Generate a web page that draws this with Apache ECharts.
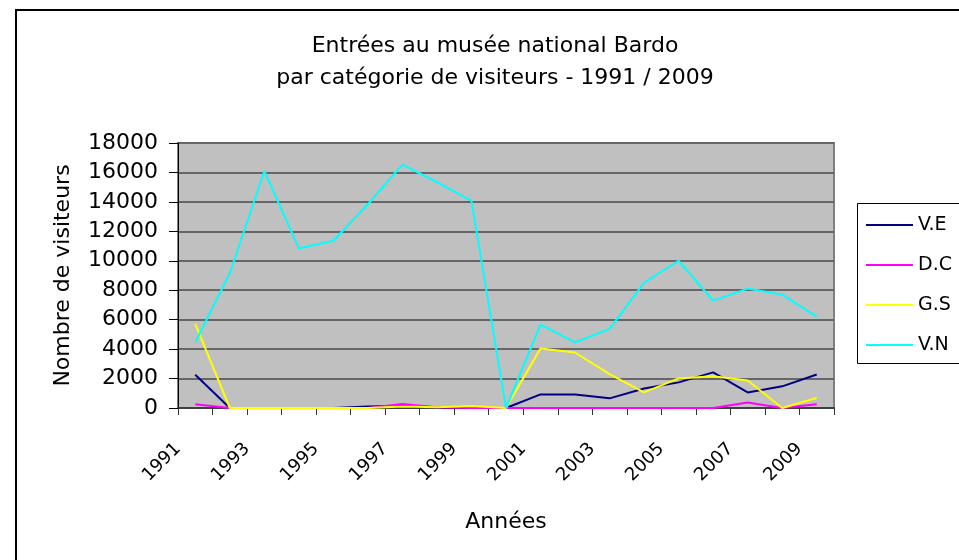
<!DOCTYPE html>
<html>
<head>
<meta charset="utf-8">
<script src="https://cdn.jsdelivr.net/npm/echarts@6/dist/echarts.min.js"></script>
<style>
  html, body { margin: 0; padding: 0; background: #fff; }
  #BardoChart { width: 959px; height: 560px; }
</style>
</head>
<body>
<div id="BardoChart"></div>
<script>
const years = ['1991', '1992', '1993', '1994', '1995', '1996', '1997', '1998', '1999', '2000',
  '2001', '2002', '2003', '2004', '2005', '2006', '2007', '2008', '2009'];
// tick labels sit on the category boundaries, one more boundary than years
const tickLabels = years.concat(['']);

const veData = [2260, 0, 0, 0, 0, 100, 150, 50, 0, 0, 925, 925, 655, 1330, 1740, 2420, 1060, 1470, 2280];
const dcData = [250, 0, 0, 0, 0, 0, 270, 50, 0, 0, 0, 0, 0, 0, 0, 0, 380, 0, 250];
const gsData = [5710, 0, 0, 0, 0, 0, 100, 50, 130, 0, 4040, 3770, 2300, 1060, 2010, 2150, 1870, 0, 680];
const vnData = [4470, 9150, 16100, 10840, 11360, 13840, 16530, 15350, 14070, 0, 5670, 4450, 5370, 8510, 10000, 7290, 8110, 7700, 6210];

const font = 'DejaVu Sans';

const lineSeries = (name, data, color) => ({
  name: name,
  type: 'line',
  xAxisIndex: 0,
  data: data,
  symbol: 'none',
  lineStyle: { color: color, width: 2 },
  itemStyle: { color: color }
});

const option = {
  animation: false,
  backgroundColor: '#fff',
  title: {
    text: 'Entrées au musée national Bardo\npar catégorie de visiteurs - 1991 / 2009',
    left: 490,
    textAlign: 'center',
    top: 25,
    textStyle: {
      fontFamily: font,
      fontSize: 22,
      fontWeight: 'normal',
      color: '#000',
      lineHeight: 32
    }
  },
  legend: {
    orient: 'vertical',
    left: 861,
    top: 210,
    icon: 'rect',
    itemWidth: 47,
    itemHeight: 2,
    itemGap: 20,
    textStyle: { fontFamily: font, fontSize: 19, color: '#000', lineHeight: 20 },
    data: ['V.E', 'D.C', 'G.S', 'V.N']
  },
  grid: {
    left: 178,
    right: 125,
    top: 143,
    bottom: 152,
    show: true,
    backgroundColor: '#c0c0c0',
    borderColor: '#808080',
    borderWidth: 2
  },
  graphic: [
    {
      type: 'rect',
      z: 0,
      shape: { x: 16, y: 10, width: 1000, height: 600 },
      style: { fill: 'none', stroke: '#000', lineWidth: 2 }
    },
    {
      type: 'rect',
      z: 0,
      shape: { x: 857.5, y: 203.5, width: 200, height: 160 },
      style: { fill: 'none', stroke: '#000', lineWidth: 1 }
    }
  ],
  xAxis: [
    {
      type: 'category',
      data: years,
      boundaryGap: true,
      name: 'Années',
      nameLocation: 'middle',
      nameGap: 103,
      nameTextStyle: { fontFamily: font, fontSize: 22, color: '#000' },
      axisLine: { lineStyle: { color: '#404040', width: 2 } },
      axisTick: { show: false },
      axisLabel: { show: false }
    },
    {
      type: 'category',
      data: tickLabels,
      boundaryGap: false,
      position: 'bottom',
      axisLine: { show: false },
      axisTick: { show: true, interval: 0, length: 7, lineStyle: { color: '#333', width: 1 } },
      axisLabel: {
        interval: 1,
        rotate: 45,
        margin: 38,
        fontFamily: font,
        fontSize: 18,
        color: '#000'
      },
      splitLine: { show: false }
    }
  ],
  yAxis: {
    type: 'value',
    min: 0,
    max: 18000,
    interval: 2000,
    name: 'Nombre de visiteurs',
    nameLocation: 'middle',
    nameRotate: 90,
    nameGap: 104,
    nameTextStyle: { fontFamily: font, fontSize: 22, color: '#000' },
    axisLine: { show: true, lineStyle: { color: '#000', width: 1 } },
    axisTick: { show: true, length: 9, lineStyle: { color: '#000' } },
    axisLabel: {
      margin: 20,
      fontFamily: font,
      fontSize: 22,
      color: '#000',
      formatter: (v) => String(v)
    },
    splitLine: { lineStyle: { color: '#666', width: 2 } }
  },
  series: [
    lineSeries('V.E', veData, '#000080'),
    lineSeries('D.C', dcData, '#ff00ff'),
    lineSeries('G.S', gsData, '#ffff00'),
    lineSeries('V.N', vnData, '#00ffff')
  ]
};

let myChart = null;
const initBardoChart = () => {
  var chartDom = document.getElementById('BardoChart');
  myChart = echarts.init(chartDom);
  myChart.setOption(option);
};
initBardoChart();
</script>
</body>
</html>
